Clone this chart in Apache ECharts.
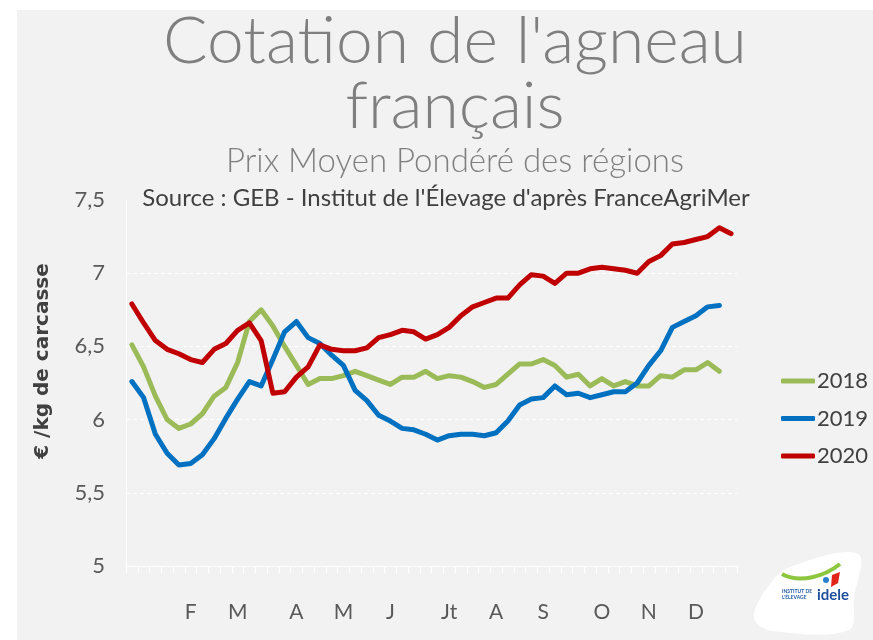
<!DOCTYPE html>
<html>
<head>
<meta charset="utf-8">
<script src="https://cdn.jsdelivr.net/npm/echarts@6/dist/echarts.min.js"></script>
<style>
html,body{margin:0;padding:0;background:#ffffff;}
#chart{width:873px;height:640px;}
</style>
</head>
<body>
<div id="chart"></div>
<script>
// Weeks (categories)
const weeks = [1,2,3,4,5,6,7,8,9,10,11,12,13,14,15,16,17,18,19,20,21,22,23,24,25,26,
  27,28,29,30,31,32,33,34,35,36,37,38,39,40,41,42,43,44,45,46,47,48,49,50,51,52];
// Month initials shown under given week numbers
const monthLabels = {6:'F',10:'M',15:'A',19:'M',23:'J',28:'Jt',32:'A',36:'S',41:'O',45:'N',49:'D'};
const yTicks = [5, 5.5, 6, 6.5, 7, 7.5];

const s2018 = [6.51,6.36,6.16,6.00,5.94,5.97,6.04,6.16,6.22,6.39,6.67,6.75,6.64,6.50,6.37,6.24,6.28,6.28,6.30,6.33,6.30,6.27,6.24,6.29,6.29,6.33,
  6.28,6.30,6.29,6.26,6.22,6.24,6.31,6.38,6.38,6.41,6.37,6.29,6.31,6.23,6.28,6.23,6.26,6.23,6.23,6.30,6.29,6.34,6.34,6.39,6.33];
const s2019 = [6.26,6.15,5.90,5.77,5.69,5.70,5.76,5.87,6.01,6.14,6.26,6.23,6.41,6.60,6.67,6.56,6.52,6.44,6.37,6.20,6.13,6.03,5.99,5.94,5.93,5.90,
  5.86,5.89,5.90,5.90,5.89,5.91,5.99,6.10,6.14,6.15,6.23,6.17,6.18,6.15,6.17,6.19,6.19,6.25,6.37,6.47,6.63,6.67,6.71,6.77,6.78];
const s2020 = [6.79,6.66,6.54,6.48,6.45,6.41,6.39,6.48,6.52,6.61,6.66,6.54,6.18,6.19,6.29,6.36,6.51,6.48,6.47,6.47,6.49,6.56,6.58,6.61,6.60,6.55,
  6.58,6.63,6.71,6.77,6.80,6.83,6.83,6.92,6.99,6.98,6.93,7.00,7.00,7.03,7.04,7.03,7.02,7.00,7.08,7.12,7.20,7.21,7.23,7.25,7.31,7.27];

const FONT = 'Lato';
const chart = echarts.init(document.getElementById('chart'), null, {renderer:'canvas'});

function mkSeries(name, data, color){
  return {
    name, type:'line', data, symbol:'none', smooth:false,
    lineStyle:{color, width:5, cap:'round', join:'round'},
    itemStyle:{color},
    emphasis:{disabled:true}, z:3
  };
}

chart.setOption({
  animation:false,
  backgroundColor:'transparent',
  graphic:[
    {type:'rect', z:-10, shape:{x:17,y:10,width:860,height:640}, style:{fill:'#f2f2f2'}},
    {type:'text', x:455, y:42, style:{text:"Cotation de l'agneau", align:'center', verticalAlign:'middle', fontSize:66, fontWeight:300, fontFamily:FONT, fill:'#7f7f7f'}},
    {type:'text', x:455, y:107, style:{text:'français', align:'center', verticalAlign:'middle', fontSize:66, fontWeight:300, fontFamily:FONT, fill:'#7f7f7f'}},
    {type:'text', x:455, y:161, style:{text:'Prix Moyen Pondéré des régions', align:'center', verticalAlign:'middle', fontSize:33, fontWeight:300, fontFamily:FONT, fill:'#7f7f7f'}},
    {type:'text', x:446, y:198, style:{text:"Source : GEB - Institut de l'Élevage d'après FranceAgriMer", align:'center', verticalAlign:'middle', fontSize:24, fontFamily:FONT, fill:'#404040'}},
    {type:'text', x:43, y:361, rotation:Math.PI/2, style:{text:'€ /kg de carcasse', align:'center', verticalAlign:'middle', fontSize:20, fontWeight:'bold', fontFamily:'DejaVu Sans', fill:'#404040'}},
    // logo
    {type:'polygon', shape:{smooth:0.35, points:[[754,618],[767,588],[790,567],[858,554],[854,598],[849,630],[772,631]]}, style:{fill:'#ffffff'}},
    {type:'bezierCurve', shape:{x1:782,y1:574,x2:840,y2:564,cpx1:800,cpy1:584,cpx2:825,cpy2:576}, style:{stroke:'#8dc63f', lineWidth:4, fill:null}},
    {type:'circle', shape:{cx:826,cy:580,r:3}, style:{fill:'#2a7fc8'}},
    {type:'polygon', shape:{points:[[832,575],[840,572],[838,583],[831,587]]}, style:{fill:'#e2231a'}},
    {type:'text', x:782, y:591, style:{text:'INSTITUT DE', fontSize:5, fontWeight:'bold', fontFamily:FONT, fill:'#1f5aa6', verticalAlign:'middle'}},
    {type:'text', x:782, y:597, style:{text:"L'ÉLEVAGE", fontSize:5, fontWeight:'bold', fontFamily:FONT, fill:'#1f5aa6', verticalAlign:'middle'}},
    {type:'text', x:817, y:595, style:{text:'idele', fontSize:15, fontWeight:'bold', fontFamily:FONT, fill:'#1f4e9c', verticalAlign:'middle'}}
  ],
  grid:{left:126, right:136, top:200, bottom:74, containLabel:false},
  legend:{
    orient:'vertical', left:776, top:365, itemWidth:34, itemHeight:5, itemGap:15.5,
    icon:'roundRect',
    data:['2018','2019','2020'],
    textStyle:{fontSize:22, fontFamily:FONT, color:'#404040', lineHeight:22, padding:[0,0,0,-3]},
    selectedMode:false
  },
  xAxis:{
    type:'category', data:weeks, boundaryGap:true,
    axisLine:{show:true, lineStyle:{color:'#ffffff', width:1}},
    axisTick:{show:true, interval:0, length:7, lineStyle:{color:'#ffffff'}},
    axisLabel:{interval:0, margin:36, fontSize:21, fontFamily:FONT, color:'#595959',
      formatter:(v)=> monthLabels[v] || ''},
    splitLine:{show:false}
  },
  yAxis:{
    type:'value', min:yTicks[0], max:yTicks[yTicks.length-1], interval:0.5,
    axisLine:{show:true, lineStyle:{color:'#ffffff'}},
    axisTick:{show:false},
    axisLabel:{margin:21, fontSize:22, fontFamily:FONT, color:'#595959',
      formatter:(v)=> String(v).replace('.', ',')},
    splitLine:{show:true, lineStyle:{color:['#ffffff','#ffffff','#ffffff','#ffffff','#ffffff','rgba(0,0,0,0)'], type:[4,3], width:1}}
  },
  series:[
    mkSeries('2018', s2018, '#9bbb59'),
    mkSeries('2019', s2019, '#0070c0'),
    mkSeries('2020', s2020, '#c00000')
  ]
});
</script>
</body>
</html>
